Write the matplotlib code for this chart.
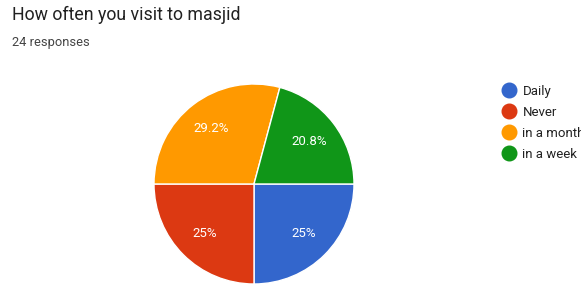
import matplotlib.pyplot as plt
from matplotlib.lines import Line2D

labels = ["Daily", "Never", "in a month", "in a week"]
counts = [6, 6, 7, 5]
colors = ["#3366cc", "#dc3912", "#ff9900", "#109618"]
title = "How often you visit to masjid"
subtitle = "24 responses"

plt.rcParams['font.family'] = ['Roboto', 'DejaVu Sans']

W, H = 581, 284
fig = plt.figure(figsize=(W / 100, H / 100), dpi=100)
ax = fig.add_axes([0, 0, 1, 1])

wedges, texts, autotexts = ax.pie(
    counts, colors=colors, startangle=0, counterclock=False,
    center=(254, 100), radius=100, autopct=lambda p: f"{p:.1f}%".replace(".0%", "%"),
    pctdistance=0.7, wedgeprops=dict(edgecolor="white", linewidth=1),
    textprops=dict(color="white", fontsize=9.5), frame=True)
ax.set_xlim(0, W)
ax.set_ylim(0, H)
ax.set_aspect('equal')
ax.axis('off')

fig.text(12 / W, 1 - 20 / H, title, fontsize=12.8, color="#212121", va="baseline")
fig.text(12 / W, 1 - 46 / H, subtitle, fontsize=9.3, color="#444444", va="baseline")

handles = [Line2D([], [], marker='o', linestyle='', markersize=10.5,
                  markerfacecolor=c, markeredgecolor=c) for c in colors]
leg = fig.legend(handles, labels, loc="upper left", bbox_to_anchor=(502 / W, 1 - 85 / H),
                 frameon=False, fontsize=9.5, handlelength=1.0, handletextpad=0.55,
                 labelspacing=0.6, borderpad=0, borderaxespad=0)
for t in leg.get_texts():
    t.set_color("#222222")

fig.savefig("out.png", dpi=100)
